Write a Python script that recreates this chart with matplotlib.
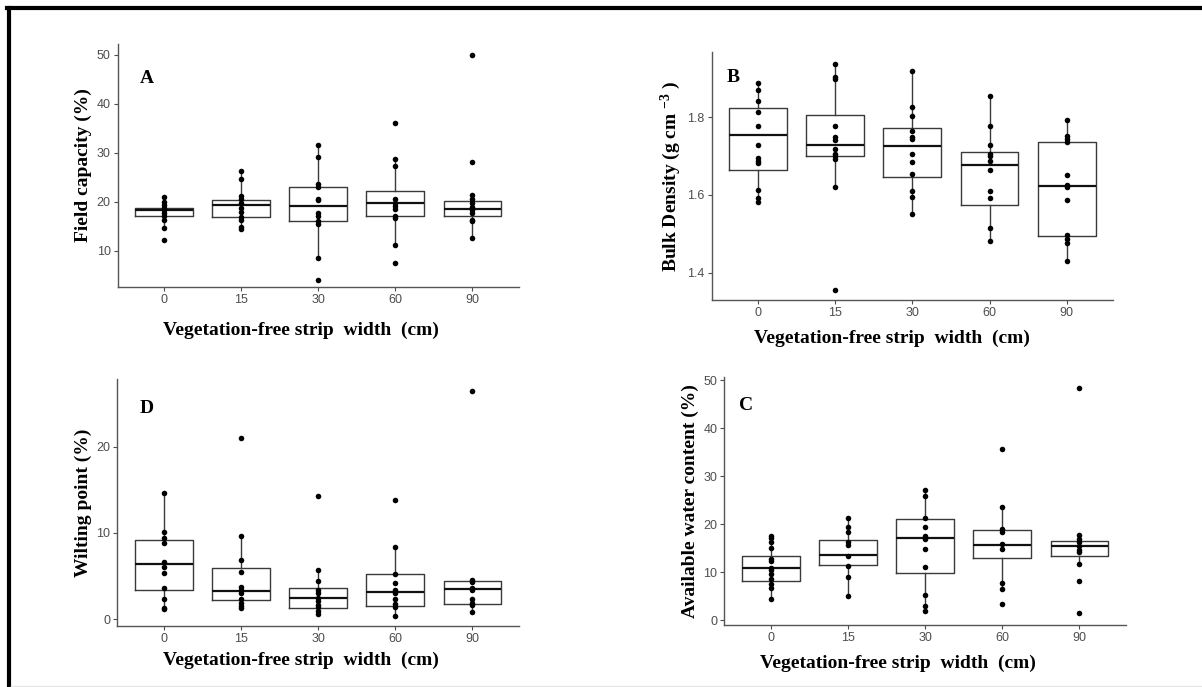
import numpy as np
import matplotlib
matplotlib.use("Agg")
import matplotlib.pyplot as plt
from matplotlib.lines import Line2D

plt.rcParams['font.family'] = ['Liberation Sans', 'DejaVu Sans']
plt.rcParams['mathtext.fontset'] = 'custom'
plt.rcParams['mathtext.rm'] = 'Liberation Serif:bold'
plt.rcParams['mathtext.default'] = 'rm'

widths = ['0', '15', '30', '60', '90']

# A - field capacity (%)
fc_pts = [
    [20.9, 19.9, 19.4, 18.8, 18.3, 17.8, 17.2, 16.3, 14.7, 12.3],
    [26.2, 24.6, 21.2, 20.6, 19.7, 18.8, 17.9, 16.8, 16.3, 14.8, 14.4],
    [31.6, 29.1, 23.7, 23.1, 20.6, 20.3, 17.7, 17.0, 16.0, 15.5, 8.6, 4.0],
    [36.1, 28.7, 27.4, 20.5, 19.8, 19.2, 18.5, 17.2, 16.6, 11.2, 7.5],
    [50.0, 28.1, 21.3, 20.5, 19.7, 19.0, 18.3, 17.7, 16.3, 16.0, 12.6],
]
fc_q1 = [17.1, 16.8, 16.1, 17.2, 17.1]
fc_med = [18.3, 19.4, 19.1, 19.7, 18.6]
fc_q3 = [18.8, 20.4, 23.0, 22.2, 20.1]
fc_lo = [14.7, 14.4, 8.6, 11.2, 12.6]
fc_hi = [20.9, 26.2, 31.6, 28.6, 21.3]

# B - bulk density (g cm-3)
bd_pts = [
    [1.888, 1.870, 1.842, 1.814, 1.776, 1.727, 1.694, 1.686, 1.682, 1.613, 1.593, 1.583],
    [1.937, 1.903, 1.898, 1.776, 1.748, 1.742, 1.718, 1.705, 1.699, 1.692, 1.621, 1.355],
    [1.917, 1.827, 1.803, 1.765, 1.748, 1.744, 1.705, 1.684, 1.654, 1.609, 1.594, 1.551],
    [1.855, 1.776, 1.729, 1.705, 1.699, 1.687, 1.663, 1.609, 1.591, 1.515, 1.481],
    [1.793, 1.752, 1.743, 1.736, 1.651, 1.626, 1.621, 1.588, 1.497, 1.487, 1.476, 1.431],
]
bd_q1 = [1.664, 1.699, 1.645, 1.574, 1.495]
bd_med = [1.753, 1.729, 1.726, 1.676, 1.624]
bd_q3 = [1.822, 1.805, 1.773, 1.710, 1.736]
bd_lo = [1.583, 1.621, 1.551, 1.481, 1.431]
bd_hi = [1.888, 1.937, 1.917, 1.855, 1.793]

# D - wilting point (%)
wp_pts = [
    [14.6, 10.1, 9.4, 8.8, 6.6, 6.1, 5.4, 3.6, 2.4, 1.3, 1.2],
    [21.0, 9.7, 6.9, 5.5, 3.7, 3.4, 3.0, 2.4, 1.9, 1.5, 1.3],
    [14.3, 5.7, 4.4, 3.4, 3.0, 2.5, 2.1, 1.7, 1.4, 1.0, 0.6],
    [13.8, 8.4, 5.2, 4.2, 3.4, 3.1, 2.4, 1.8, 1.4, 0.4],
    [26.4, 4.6, 4.3, 3.6, 3.4, 2.3, 1.9, 1.7, 0.8],
]
wp_q1 = [3.4, 2.2, 1.35, 1.6, 1.8]
wp_med = [6.4, 3.3, 2.5, 3.2, 3.5]
wp_q3 = [9.2, 5.9, 3.6, 5.2, 4.4]
wp_lo = [1.2, 1.3, 0.6, 0.4, 0.8]
wp_hi = [14.6, 9.7, 5.7, 8.4, 4.6]

# C - available water content (%)
aw_pts = [
    [17.6, 17.0, 16.3, 15.1, 12.8, 12.2, 10.9, 10.4, 9.6, 8.5, 7.6, 6.6, 4.3],
    [21.3, 19.4, 18.4, 16.3, 15.6, 13.4, 11.3, 8.9, 5.1],
    [27.1, 25.9, 21.3, 19.4, 17.5, 16.9, 14.8, 11.1, 5.2, 3.0, 1.9],
    [35.6, 23.5, 19.0, 18.3, 15.8, 14.9, 7.8, 6.4, 3.3],
    [48.3, 17.8, 16.9, 16.2, 15.5, 14.7, 14.1, 11.7, 8.1, 1.5],
]
aw_q1 = [8.1, 11.4, 9.7, 13.0, 13.4]
aw_med = [10.8, 13.6, 17.2, 15.6, 15.5]
aw_q3 = [13.3, 16.7, 21.1, 18.8, 16.5]
aw_lo = [4.3, 5.1, 1.9, 6.4, 11.7]
aw_hi = [17.6, 21.3, 27.1, 23.5, 17.8]

xtitle = 'Vegetation-free strip  width  (cm)'

fig = plt.figure(figsize=(12.02, 6.87), dpi=100)

serif = dict(family='Liberation Serif', weight='bold')


def panel(rect, pts, q1, med, q3, lo, hi, ylim, yticks, ylabel, letter, letter_xy, xlab_xy):
    ax = fig.add_axes(rect)
    stats = []
    for i in range(len(widths)):
        stats.append(dict(med=med[i], q1=q1[i], q3=q3[i], whislo=lo[i], whishi=hi[i], fliers=[]))
    ax.bxp(stats, positions=range(1, 6), widths=0.75, showfliers=False, showcaps=False,
           boxprops=dict(color='#3a3a3a', lw=1.0),
           whiskerprops=dict(color='#3a3a3a', lw=1.0),
           medianprops=dict(color='#111111', lw=1.6))
    for i, p in enumerate(pts):
        ax.scatter(np.full(len(p), i + 1), p, s=16, color='black', zorder=3, linewidths=0)
    ax.set_xlim(0.4, 5.6)
    ax.set_ylim(*ylim)
    ax.set_xticks(range(1, 6))
    ax.set_xticklabels(widths)
    ax.set_yticks(yticks)
    ax.set_yticklabels([f'{t:g}' for t in yticks])
    for s in ['top', 'right']:
        ax.spines[s].set_visible(False)
    for s in ['left', 'bottom']:
        ax.spines[s].set_color('#555555')
        ax.spines[s].set_linewidth(1.0)
    ax.tick_params(colors='#4d4d4d', labelsize=9, length=3, width=0.8, pad=2)
    ax.text(xlab_xy[0], xlab_xy[1], xtitle, transform=ax.transAxes, fontsize=14,
            ha='center', va='center', **serif)
    ax.set_ylabel(ylabel, fontsize=14, labelpad=3, color='black', **serif)
    ax.text(letter_xy[0], letter_xy[1], letter, transform=ax.transAxes, fontsize=14,
            ha='left', va='center', **serif)
    return ax


panel([0.0978, 0.5822, 0.3338, 0.3537], fc_pts, fc_q1, fc_med, fc_q3, fc_lo, fc_hi,
      (2.6, 52.2), [10, 20, 30, 40, 50], 'Field capacity (%)', 'A', (0.056, 0.86),
      (0.458, -0.177))
panel([0.592, 0.5633, 0.334, 0.361], bd_pts, bd_q1, bd_med, bd_q3, bd_lo, bd_hi,
      (1.330, 1.967), [1.4, 1.6, 1.8], r'Bulk Density (g cm $^{-3}$ )', 'B', (0.038, 0.899),
      (0.45, -0.153))
panel([0.0976, 0.0888, 0.334, 0.3591], wp_pts, wp_q1, wp_med, wp_q3, wp_lo, wp_hi,
      (-0.77, 27.8), [0, 10, 20], 'Wilting point (%)', 'D', (0.0566, 0.88),
      (0.458, -0.138))
panel([0.6026, 0.0902, 0.334, 0.3614], aw_pts, aw_q1, aw_med, aw_q3, aw_lo, aw_hi,
      (-1.04, 50.7), [0, 10, 20, 30, 40, 50], 'Available water content (%)', 'C', (0.037, 0.884),
      (0.432, -0.153))

# frame around the figure (top and left black, faint bottom line)
fig.add_artist(Line2D([9 / 1202, 9 / 1202], [0, 1 - 8 / 687], color='black', lw=3.0,
                      transform=fig.transFigure, solid_capstyle='projecting'))
fig.add_artist(Line2D([7 / 1202, 1], [1 - 8 / 687, 1 - 8 / 687], color='black', lw=3.0,
                      transform=fig.transFigure))
fig.add_artist(Line2D([11 / 1202, 1], [1.0 / 687, 1.0 / 687], color='#e6e6e6', lw=1.0,
                      transform=fig.transFigure))

fig.savefig('out.png', dpi=100)
